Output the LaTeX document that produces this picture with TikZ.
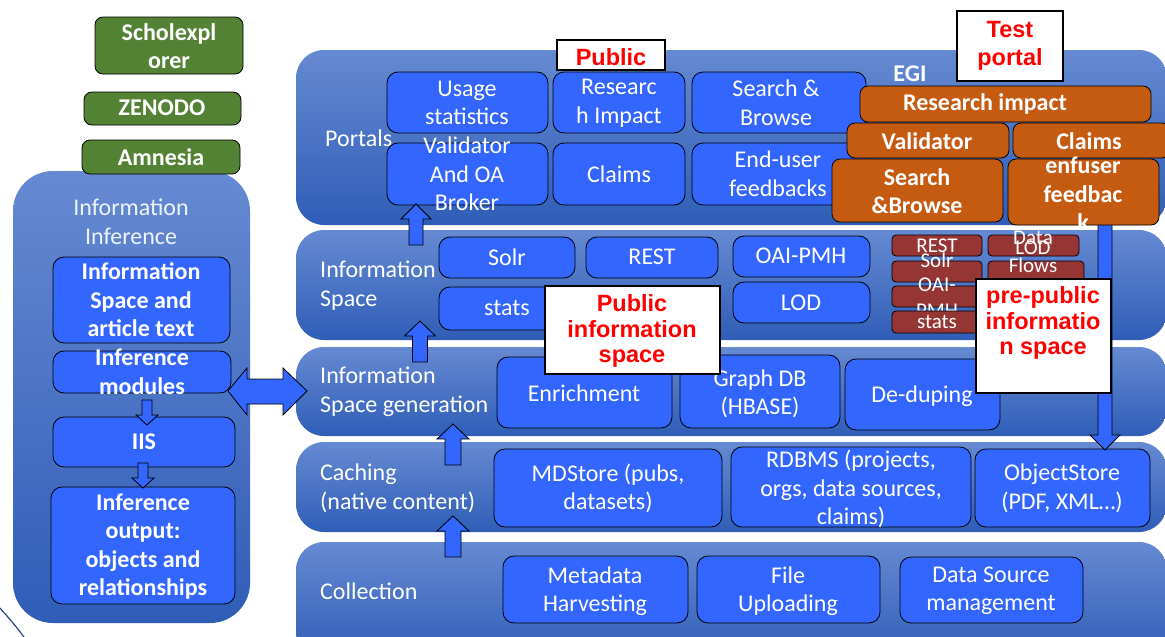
\documentclass[tikz,border=0pt]{standalone}
\usepackage{fontspec}
\setmainfont{Carlito}
\newfontfamily\arialf{Liberation Sans}
\definecolor{bandtop}{RGB}{102,138,210}
\definecolor{bandbot}{RGB}{47,93,183}
\definecolor{boxblue}{RGB}{51,102,255}
\definecolor{grn}{RGB}{84,130,53}
\definecolor{orng}{RGB}{197,90,17}
\definecolor{dred}{RGB}{150,54,52}
\definecolor{lbl}{RGB}{238,242,252}
\definecolor{arcblue}{RGB}{40,70,130}
\newcommand\myfs{\fontsize{24}{28.5}\selectfont}
\newcommand\myfsb{\bfseries\fontsize{24}{28.5}\selectfont}
\newcommand\bx[6]{\node[#1, minimum width={#5-#3}, minimum height={#6-#4}] (#2) at ({(#3+#5)/2},{(#4+#6)/2}) {};}
\newcommand\arr[7]{\draw[barrow] ({#1-#5},#4) -- ({#1-#5},#3) -- ({#1-#6},#3) -- (#1,#2) -- ({#1+#6},#3) -- ({#1+#5},#3) -- ({#1+#5},#4) -- cycle;}
\begin{document}
\begin{tikzpicture}[x=1pt,y=-1pt,
  band/.style={rounded corners=28pt, top color=bandtop, bottom color=bandbot, draw=none, inner sep=0pt, outer sep=0pt},
  panel/.style={rounded corners=40pt, top color=bandtop, bottom color=bandbot, draw=none, inner sep=0pt, outer sep=0pt},
  bbox/.style={rounded corners=11pt, fill=boxblue, draw=black, line width=0.8pt, inner sep=0pt, outer sep=0pt},
  gbox/.style={rounded corners=8pt, fill=grn, draw=black, line width=0.8pt, inner sep=0pt, outer sep=0pt},
  obox/.style={rounded corners=8pt, fill=orng, draw=black, line width=0.8pt, inner sep=0pt, outer sep=0pt},
  rbox/.style={rounded corners=4pt, fill=dred, draw=black, line width=0.8pt, inner sep=0pt, outer sep=0pt},
  wbox/.style={fill=white, draw=black, line width=1.2pt, inner sep=0pt, outer sep=0pt},
  txt/.style={text=white, align=center, inner sep=0pt, font=\myfs},
  btxt/.style={text=white, align=center, inner sep=0pt, font=\myfsb},
  stxt/.style={text=white, align=center, inner sep=0pt, font=\fontsize{21}{26}\selectfont},
  lab/.style={text=white, align=left, anchor=west, inner sep=0pt, font=\myfs},
  rtxt/.style={text=red, align=center, inner sep=0pt, font=\arialf\bfseries\fontsize{23.5}{25.5}\selectfont},
  barrow/.style={fill=boxblue, draw=black, line width=0.8pt, line join=miter}
]
\useasboundingbox (0,0) rectangle (1165,637);
\clip (0,0) rectangle (1165,637);
\fill[white] (0,0) rectangle (1165,637);

% ---------- layer bands ----------
\bx{band}{portals}{296}{50}{1167}{225}
\bx{band}{infospace}{296}{230}{1167}{340}
\bx{band}{gen}{296}{347}{1167}{436}
\bx{band}{caching}{296}{442}{1167}{532}
\bx{band}{collection}{296}{542}{1167}{660}

% ---------- left panel ----------
\bx{panel}{infer}{13}{171}{250}{623}
\node[txt, text=lbl] (infer-t) at (131,222) {Information\\Inference};

% ---------- green boxes ----------
\bx{gbox}{scholex}{95}{17}{243}{74}
\node[btxt] (scholex-t) at (169,46) {Scholexpl\\orer};
\bx{gbox}{zenodo}{84}{92}{241}{125}
\node[btxt] (zenodo-t) at (162,108) {ZENODO};
\bx{gbox}{amnesia}{82}{140}{240}{174}
\node[btxt] (amnesia-t) at (161,157) {Amnesia};

% ---------- left inner boxes ----------
\bx{bbox}{infoart}{53}{257}{230}{343}
\node[btxt] (infoart-t) at (141,300) {Information\\Space and\\article text};
\bx{bbox}{modules}{53}{351}{231}{393}
\node[btxt] (modules-t) at (142,371.5) {Inference\\modules};
\bx{bbox}{iis}{53}{417}{235}{467}
\node[btxt] (iis-t) at (144,442) {IIS};
\bx{bbox}{output}{51}{487}{235}{604}
\node[btxt] (output-t) at (143,546.5) {Inference\\output:\\objects and\\relationships};
\arr{147}{425}{415}{400}{5}{11}{}
\arr{143}{488}{478}{463}{5}{11}{}
% double arrow
\draw[barrow] (228,391) -- (247,368) -- (247,379) -- (283,379) -- (283,368) -- (307,391)
  -- (283,415) -- (283,404) -- (247,404) -- (247,415) -- cycle;

% ---------- Portals ----------
\node[lab] (portals-l) at (325,138) {Portals};
\bx{bbox}{usage}{387}{72}{548}{133}
\node[txt] (usage-t) at (467,103) {Usage\\statistics};
\bx{bbox}{resimp}{553}{72}{685}{133}
\node[txt] (resimp-t) at (619,103) {Researc\\h Impact};
\bx{bbox}{search}{692}{72}{866}{133}
\node[txt] (search-t) at (776,103) {Search \&\\Browse};
\bx{bbox}{valid}{387}{143}{548}{205}
\node[txt] (valid-t) at (467,174) {Validator\\And OA\\Broker};
\bx{bbox}{claims}{553}{143}{685}{205}
\node[txt] (claims-t) at (619,174) {Claims};
\bx{bbox}{enduser}{692}{143}{866}{205}
\node[txt] (enduser-t) at (778,174) {End-user\\feedbacks};

% ---------- Information Space ----------
\node[lab] (infospace-l) at (320,285.5) {Information\\Space};
\bx{bbox}{solr}{439}{237}{575}{278}
\node[txt] (solr-t) at (507,257) {Solr};
\bx{bbox}{rest}{586}{237}{718}{278}
\node[txt] (rest-t) at (652,257) {REST};
\bx{bbox}{oai}{733}{236}{870}{277}
\node[txt] (oai-t) at (801,256) {OAI-PMH};
\bx{bbox}{stats}{439}{287}{575}{330}
\node[txt] (stats-t) at (507,308) {stats};
\bx{bbox}{lod}{733}{282}{870}{323}
\node[txt] (lod-t) at (801,303) {LOD};

% ---------- Information Space generation ----------
\node[lab] (gen-l) at (320,392) {Information\\Space generation};
\bx{bbox}{enrich}{497}{357}{672}{428}
\node[txt] (enrich-t) at (584,393) {Enrichment};
\bx{bbox}{graph}{680}{355}{840}{428}
\node[txt] (graph-t) at (760,394) {Graph DB\\(HBASE)};
\bx{bbox}{dedup}{845}{359}{1000}{430}
\node[txt] (dedup-t) at (922,396) {De-duping};

% ---------- Caching ----------
\node[lab] (caching-l) at (320,488.5) {Caching\\(native content)};
\bx{bbox}{mdstore}{494}{449}{722}{527}
\node[txt] (mdstore-t) at (608,488.5) {MDStore (pubs,\\datasets)};
\bx{bbox}{rdbms}{731}{447}{971}{527}
\node[txt] (rdbms-t) at (851,489) {RDBMS (projects,\\orgs, data sources,\\claims)};
\bx{bbox}{objstore}{975}{449}{1150}{527}
\node[txt] (objstore-t) at (1062,488.5) {ObjectStore\\(PDF, XML…)};

% ---------- Collection ----------
\node[lab] (collection-l) at (320,591) {Collection};
\bx{bbox}{meta}{503}{556}{688}{623}
\node[txt] (meta-t) at (595,591) {Metadata\\Harvesting};
\bx{bbox}{file}{697}{556}{880}{623}
\node[txt] (file-t) at (788,591) {File\\Uploading};
\bx{bbox}{dsm}{900}{557}{1083}{623}
\node[txt] (dsm-t) at (991,591) {Data Source\\management};

% ---------- up arrows between layers ----------
\arr{416}{204}{219}{245}{7}{15}{}
\arr{420}{321}{336}{362}{7.5}{15.5}{}
\arr{453}{424}{439}{465}{8}{16}{}
\arr{453}{516}{531}{557}{8}{16}{}

% ---------- dark red boxes ----------
\bx{rbox}{rrest}{892}{235}{982}{256}
\bx{rbox}{rlod}{988}{235}{1079}{256}
\bx{rbox}{rsolr}{892}{261}{982}{282}
\bx{rbox}{rflows}{988}{261}{1084}{282}
\bx{rbox}{roai}{892}{286}{982}{307}
\node[stxt] (rrest-t) at (937,246) {REST};
\node[stxt] (rsolr-t) at (937,260) {Solr};
\node[stxt] (rdata-t) at (1033,238) {Data};
\node[stxt] (rlod-t) at (1033,248) {LOD};
\node[stxt] (rflows-t) at (1033,265) {Flows};
\node[stxt] (roai-t) at (937,285) {OAI-};
\node[stxt] (rpmh-t) at (937,311) {PMH};
\bx{rbox}{rstats}{892}{311}{982}{333}
\node[stxt] (rstats-t) at (937,322) {stats};

% ---------- right down arrow ----------
\arr{1105}{450}{435}{222}{7}{15}{}

% ---------- white label boxes ----------
\bx{wbox}{pubinfo}{545}{286}{720}{374}
\node[rtxt] (pubinfo-t) at (632,331) {Public\\information\\space};
\bx{wbox}{prepub}{976}{279}{1111}{393}
\node[rtxt] (prepub-t) at (1043,323) {pre-public\\informatio\\n space};
\bx{wbox}{public}{557}{40}{665}{70}
\node[rtxt] (public-t) at (611,57) {Public};
\bx{wbox}{testp}{957}{11}{1063}{81}
\node[rtxt, font=\arialf\bfseries\fontsize{23.5}{28}\selectfont] (testp-t) at (1010,46) {Test\\portal};

% ---------- EGI / orange boxes ----------
\node[btxt] (egi) at (910,74) {EGI};
\bx{obox}{oresimp}{860}{86}{1151}{122}
\node[btxt] (oresimp-t) at (985,104) {Research impact};
\bx{obox}{ovalid}{847}{123}{1009}{158}
\node[btxt] (ovalid-t) at (927,141) {Validator};
\bx{obox}{oclaims}{1013}{123}{1170}{158}
\node[btxt] (oclaims-t) at (1089,141) {Claims};
\bx{obox}{osearch}{832}{159}{1003}{222}
\node[btxt] (osearch-t) at (917,191) {Search\\\&Browse};
\bx{obox}{oenf}{1008}{159}{1159}{225}
\node[btxt] (oenf-t) at (1083,194) {enfuser\\feedbac\\k};

% ---------- arc at bottom left ----------
\draw[arcblue, line width=1.2pt] (-2,606) .. controls (8,617) and (17,627) .. (26,640);
\end{tikzpicture}
\end{document}
